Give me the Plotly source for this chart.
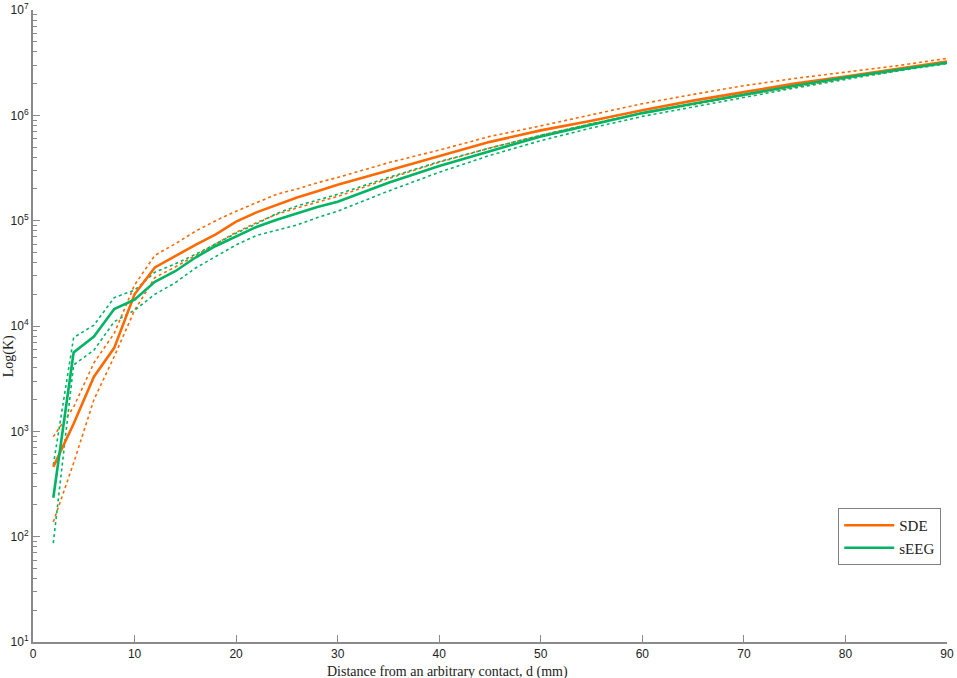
import plotly.graph_objects as go

# distance from an arbitrary contact (mm)
distance = [2, 4, 6, 8, 10, 12, 14, 16, 18, 20, 22, 24, 26, 28, 30,
            35, 40, 45, 50, 55, 60, 65, 70, 75, 80, 85, 90]

sde_mean = [460, 1180, 3300, 6200, 20000, 36000, 46000, 59000, 74000, 98000, 120000,
            141000, 166000, 190000, 219000, 300000, 410000, 560000, 720000, 890000,
            1120000, 1380000, 1660000, 2000000, 2340000, 2750000, 3240000]
sde_upper = [890, 1700, 4470, 8510, 24500, 46800, 60300, 79400, 100000, 123000, 148000,
             178000, 200000, 229000, 257000, 355000, 468000, 631000, 794000, 1020000,
             1290000, 1580000, 1910000, 2240000, 2570000, 2950000, 3470000]
sde_lower = [138, 500, 2000, 5130, 14100, 28800, 36300, 46800, 60300, 77600, 95500,
             115000, 132000, 151000, 170000, 251000, 359000, 490000, 646000, 832000,
             1050000, 1260000, 1550000, 1860000, 2240000, 2630000, 3160000]

seeg_mean = [234, 5620, 7940, 14500, 17800, 26300, 33100, 44700, 57500, 70800, 87100,
             102000, 117000, 135000, 151000, 229000, 331000, 457000, 631000, 813000,
             1050000, 1290000, 1580000, 1910000, 2290000, 2690000, 3160000]
seeg_upper = [479, 7760, 10200, 18600, 21900, 32400, 38900, 47900, 60300, 75900, 93300,
              117000, 138000, 158000, 178000, 257000, 363000, 490000, 646000, 832000,
              1050000, 1290000, 1580000, 1910000, 2290000, 2690000, 3240000]
seeg_lower = [87, 4270, 5890, 11000, 14100, 20000, 25700, 35500, 45700, 58900, 72400,
              81300, 91200, 107000, 123000, 191000, 288000, 417000, 575000, 759000,
              977000, 1200000, 1480000, 1820000, 2190000, 2630000, 3090000]

y_tickvals = [10, 100, 1000, 10000, 100000, 1000000, 10000000]
y_ticktext = ["10<sup>1</sup>", "10<sup>2</sup>", "10<sup>3</sup>", "10<sup>4</sup>",
              "10<sup>5</sup>", "10<sup>6</sup>", "10<sup>7</sup>"]

orange = "#FF6A00"
green = "#00B466"
serif = "Liberation Serif, Times New Roman, serif"
sans = "Liberation Sans, Arial, sans-serif"

fig = go.Figure()

# dotted bounds first so the solid means sit on top
for ys, col in [(sde_upper, orange), (sde_lower, orange),
                (seeg_upper, green), (seeg_lower, green)]:
    fig.add_trace(go.Scatter(x=distance, y=ys, mode="lines", showlegend=False,
                             line=dict(color=col, width=1.6, dash="3px,3px"),
                             hoverinfo="skip"))

fig.add_trace(go.Scatter(x=distance, y=sde_mean, mode="lines", name="SDE",
                         legendgroup="sde", line=dict(color=orange, width=2.6)))
fig.add_trace(go.Scatter(x=distance, y=seeg_mean, mode="lines", name="sEEG",
                         legendgroup="seeg", line=dict(color=green, width=2.6)))

fig.update_layout(
    width=957, height=678,
    margin=dict(l=33, r=10, t=10, b=36, autoexpand=False),
    paper_bgcolor="white", plot_bgcolor="white",
    font=dict(family=sans, size=12, color="#222222"),
    legend=dict(x=0.881, y=0.212, xanchor="left", yanchor="top",
                bordercolor="#808080", borderwidth=1, bgcolor="white",
                font=dict(family=serif, size=15, color="#222222"),
                itemwidth=50, tracegroupgap=10, traceorder="normal"),
)

fig.update_xaxes(
    range=[0, 90], dtick=10, tick0=0, automargin=False,
    showgrid=False, zeroline=False,
    showline=True, linecolor="#8a8a8a", linewidth=2,
    ticks="inside", ticklen=7, tickcolor="#8a8a8a", tickwidth=1,
    tickfont=dict(family=sans, size=12, color="#222222"),
)
fig.update_yaxes(
    type="log", range=[1, 7], automargin=False,
    tickvals=y_tickvals, ticktext=y_ticktext,
    showgrid=False, zeroline=False,
    showline=True, linecolor="#8a8a8a", linewidth=2,
    ticks="inside", ticklen=7, tickcolor="#8a8a8a", tickwidth=1,
    tickfont=dict(family=sans, size=12, color="#222222"),
    minor=dict(ticks="inside", ticklen=4, tickcolor="#8a8a8a", dtick="D1", showgrid=False),
)

fig.add_annotation(text="Distance from an arbitrary contact, d (mm)",
                   xref="paper", yref="paper", x=0.454, y=-0.047, yanchor="middle",
                   showarrow=False, font=dict(family=serif, size=14, color="#222222"))
fig.add_annotation(text="Log(K)", textangle=-90,
                   xref="paper", yref="paper", x=-0.026, y=0.4525,
                   xanchor="center", yanchor="middle",
                   showarrow=False, font=dict(family=serif, size=14, color="#222222"))

fig.write_html("out.html", config={"displayModeBar": False},
               post_script="document.body.style.margin='0px';")
